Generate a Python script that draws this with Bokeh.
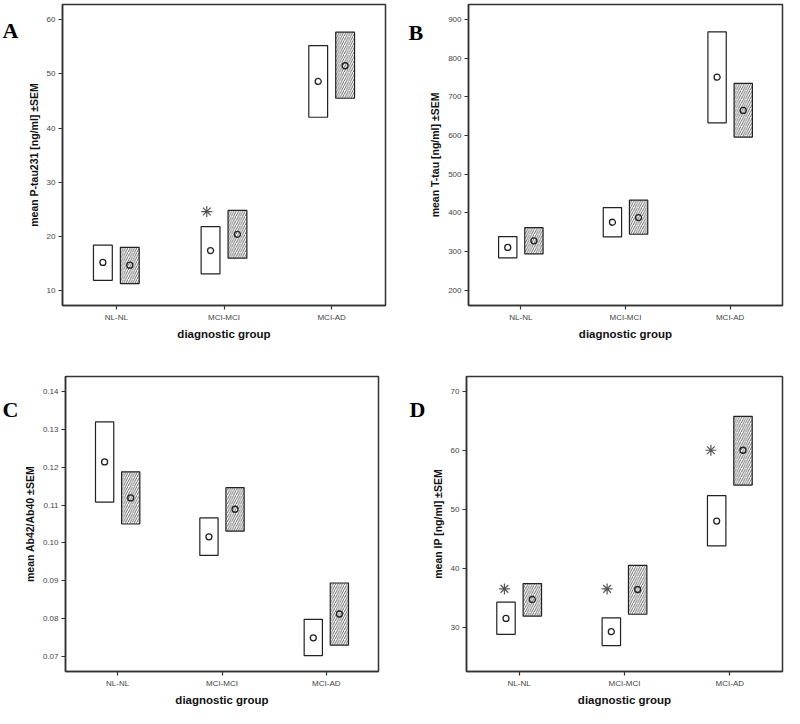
from bokeh.plotting import figure
from bokeh.models import Range1d, FixedTicker, ColumnDataSource, PrintfTickFormatter
from bokeh.core.properties import value
from bokeh.transform import dodge
from bokeh.layouts import column, row
from bokeh.embed import file_html
from bokeh.resources import INLINE

groups = ["NL-NL", "MCI-MCI", "MCI-AD"]

# Panel A: P-tau231
a_open_mean = [15.2, 17.4, 48.6]
a_open_low = [11.9, 13.1, 42.0]
a_open_high = [18.4, 21.8, 55.2]
a_hatch_mean = [14.7, 20.4, 51.5]
a_hatch_low = [11.3, 16.0, 45.5]
a_hatch_high = [18.0, 24.8, 57.7]
a_ticks = [10, 20, 30, 40, 50, 60]
a_star_groups = ["MCI-MCI"]
a_star_y = [24.6]

# Panel B: T-tau
b_open_mean = [311, 376, 751]
b_open_low = [284, 338, 633]
b_open_high = [339, 414, 868]
b_hatch_mean = [328, 388, 665]
b_hatch_low = [294, 345, 596]
b_hatch_high = [362, 433, 735]
b_ticks = [200, 300, 400, 500, 600, 700, 800, 900]
b_star_groups = []
b_star_y = []

# Panel C: Ab42/Ab40
c_open_mean = [0.1214, 0.1016, 0.0749]
c_open_low = [0.1108, 0.0967, 0.0702]
c_open_high = [0.1320, 0.1066, 0.0798]
c_hatch_mean = [0.1119, 0.1089, 0.0812]
c_hatch_low = [0.1050, 0.1031, 0.0730]
c_hatch_high = [0.1188, 0.1146, 0.0894]
c_ticks = [0.07, 0.08, 0.09, 0.10, 0.11, 0.12, 0.13, 0.14]
c_star_groups = []
c_star_y = []

# Panel D: IP
d_open_mean = [31.5, 29.25, 48.0]
d_open_low = [28.8, 26.9, 43.8]
d_open_high = [34.25, 31.6, 52.3]
d_hatch_mean = [34.7, 36.4, 60.0]
d_hatch_low = [31.9, 32.2, 54.1]
d_hatch_high = [37.4, 40.5, 65.75]
d_ticks = [30, 40, 50, 60, 70]
d_star_groups = ["NL-NL", "MCI-MCI", "MCI-AD"]
d_star_y = [36.5, 36.5, 60.0]

SANS = "Liberation Sans"
SERIF = "Liberation Serif"
LINE = "#222222"


def letter_fig(letter, W, H, lx, ly):
    f = figure(width=W, height=H, x_range=Range1d(0, W), y_range=Range1d(0, H),
               output_backend="svg", toolbar_location=None,
               min_border_left=0, min_border_right=0, min_border_top=0, min_border_bottom=0)
    f.axis.visible = False
    f.grid.visible = False
    f.outline_line_color = None
    f.text(x=[lx], y=[H - ly], text=[letter], text_font=value(SERIF),
           text_font_style="bold", text_font_size="22px", text_color="#000000",
           text_baseline="top", text_align="left")
    return f


def panel(ylabel, yr, ticks, om, ol, oh, hm, hl, hh, sg, sy, star_dx,
          size, borders, fmt=None):
    W, H = size
    L, R, T, B = borders
    p = figure(width=W, height=H, x_range=groups, y_range=Range1d(*yr),
               output_backend="svg", toolbar_location=None,
               min_border_left=L, min_border_right=R,
               min_border_top=T, min_border_bottom=B)
    p.xgrid.visible = False
    p.ygrid.visible = False
    p.outline_line_color = "#333333"
    p.outline_line_width = 1.5

    src = ColumnDataSource(dict(g=groups, om=om, ol=ol, oh=oh, hm=hm, hl=hl, hh=hh))
    p.vbar(x=dodge("g", -0.125, range=p.x_range), bottom="ol", top="oh", width=0.175,
           source=src, fill_color="white", line_color=LINE, line_width=1.2)
    p.vbar(x=dodge("g", 0.125, range=p.x_range), bottom="hl", top="hh", width=0.175,
           source=src, fill_color="white", line_color=LINE, line_width=1.2,
           hatch_pattern="/", hatch_scale=4.5, hatch_weight=0.8, hatch_color="#444444")
    p.scatter(x=dodge("g", -0.125, range=p.x_range), y="om", source=src, size=6,
              marker="circle", fill_color=None, line_color=LINE, line_width=1.3)
    p.scatter(x=dodge("g", 0.125, range=p.x_range), y="hm", source=src, size=6,
              marker="circle", fill_color=None, line_color=LINE, line_width=1.3)

    for g, y, dx in zip(sg, sy, star_dx):
        s = ColumnDataSource(dict(g=[g], y=[y]))
        p.scatter(x=dodge("g", dx, range=p.x_range), y="y", source=s, marker="asterisk",
                  size=11, line_color="#555555", line_width=1.2)

    for ax in (p.xaxis[0], p.yaxis[0]):
        ax.axis_line_color = "#333333"
        ax.axis_line_width = 1.5
        ax.major_tick_line_color = "#333333"
        ax.major_tick_line_width = 1.2
        ax.major_tick_out = 4
        ax.major_tick_in = 0
        ax.minor_tick_line_color = None
        ax.major_label_text_font = SANS
        ax.major_label_text_font_size = "8px"
        ax.major_label_text_color = "#444444"
        ax.axis_label_text_font = SANS
        ax.axis_label_text_font_style = "bold"
        ax.axis_label_text_color = "#111111"
        ax.major_label_standoff = 3
        ax.axis_label_standoff = 4

    p.xaxis.axis_label = "diagnostic group"
    p.xaxis.axis_label_text_font_size = "11.5px"
    p.xaxis.axis_label_standoff = 3
    p.yaxis.axis_label = ylabel
    p.yaxis.axis_label_text_font_size = "10.5px"
    p.yaxis.ticker = FixedTicker(ticks=ticks)
    if fmt:
        p.yaxis.formatter = PrintfTickFormatter(format=fmt)
    return p


# top row: height 342; bottom row: height 366
la = letter_fig("A", 20, 342, 2, 15)
pa = panel("mean P-tau231 [ng/ml] \u00b1SEM", (7.26, 62.8), a_ticks,
           a_open_mean, a_open_low, a_open_high, a_hatch_mean, a_hatch_low, a_hatch_high,
           a_star_groups, a_star_y, [-0.16], (370, 342), (42, 5, 4, 34))
lb = letter_fig("B", 36, 342, 18, 18)
pb = panel("mean T-tau [ng/ml] \u00b1SEM", (160.8, 938.7), b_ticks,
           b_open_mean, b_open_low, b_open_high, b_hatch_mean, b_hatch_low, b_hatch_high,
           b_star_groups, b_star_y, [], (358, 342), (41, 2, 3, 34))
lc = letter_fig("C", 20, 366, 2, 25)
pc = panel("mean Ab42/Ab40 \u00b1SEM", (0.0660, 0.1440), c_ticks,
           c_open_mean, c_open_low, c_open_high, c_hatch_mean, c_hatch_low, c_hatch_high,
           c_star_groups, c_star_y, [], (370, 366), (42, 12, 33, 33), fmt="%.2f")
ld = letter_fig("D", 36, 366, 19, 25)
pd_ = panel("mean IP [ng/ml] \u00b1SEM", (22.5, 72.5), d_ticks,
            d_open_mean, d_open_low, d_open_high, d_hatch_mean, d_hatch_low, d_hatch_high,
            d_star_groups, d_star_y, [-0.14, -0.165, -0.18], (358, 366), (40, 2, 34, 33))

layout = column(row(la, pa, lb, pb), row(lc, pc, ld, pd_))
open("out.html", "w").write(file_html(layout, INLINE))
